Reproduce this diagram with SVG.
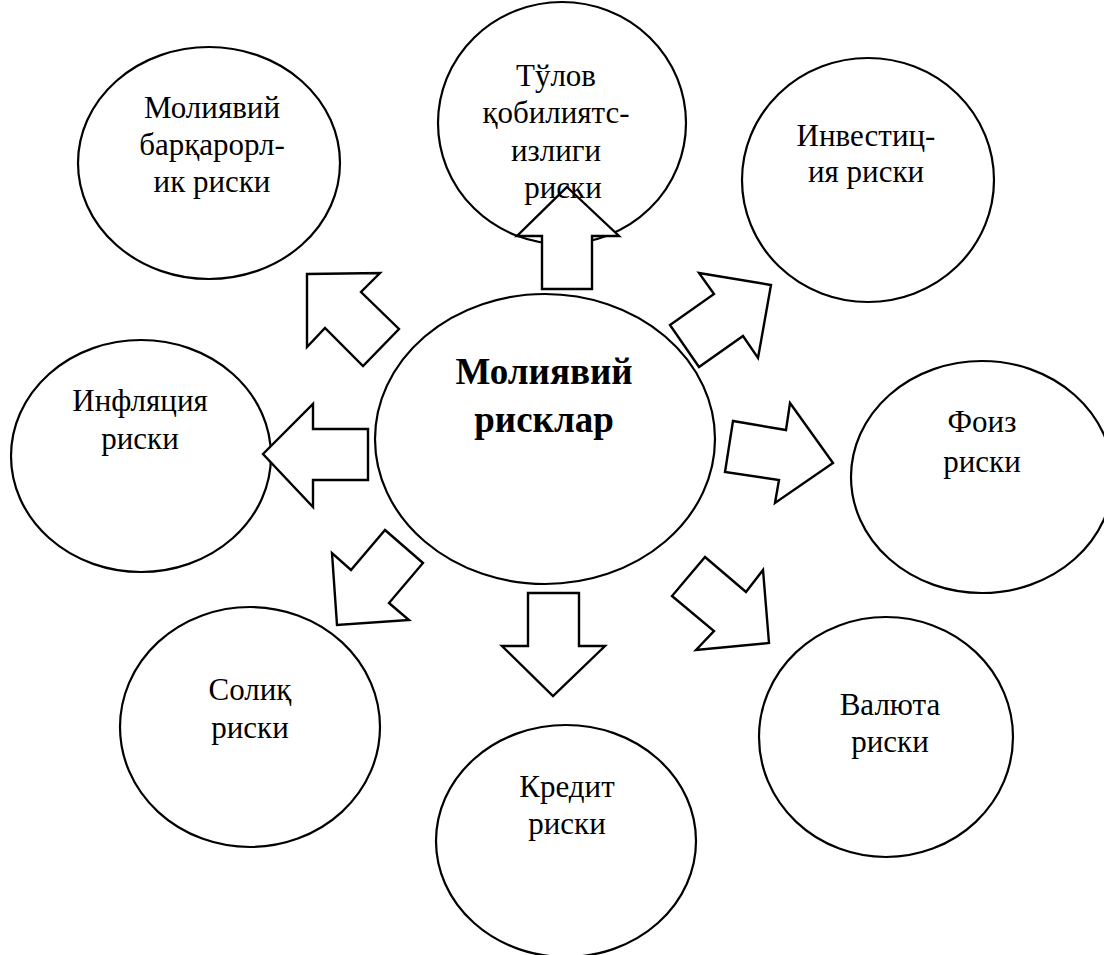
<svg xmlns="http://www.w3.org/2000/svg" width="1104" height="955" viewBox="0 0 1104 955">
  <style>
    .node ellipse { fill: #ffffff; stroke: #000000; stroke-width: 2.2; }
    .arrow { fill: #ffffff; stroke: #000000; stroke-width: 2.4; stroke-linejoin: miter; }
    text { font-family: "Liberation Serif", "Times New Roman", serif; font-size: 31px; fill: #000000; text-anchor: middle; }
    .hub { font-weight: bold; font-size: 37px; }
  </style>
  <rect width="1104" height="955" fill="#ffffff"/>

  <!-- outer risk bubbles -->
  <g id="node-stability" class="node"><ellipse cx="209" cy="163" rx="131" ry="116"/></g>
  <g id="node-solvency" class="node"><ellipse cx="562" cy="123" rx="124" ry="121"/></g>
  <g id="node-investment" class="node"><ellipse cx="868" cy="180" rx="126" ry="122"/></g>
  <g id="node-inflation" class="node"><ellipse cx="141" cy="456" rx="130" ry="116"/></g>
  <g id="node-interest" class="node"><ellipse cx="982" cy="477" rx="131" ry="116"/></g>
  <g id="node-tax" class="node"><ellipse cx="250" cy="727" rx="130" ry="120"/></g>
  <g id="node-credit" class="node"><ellipse cx="566" cy="841" rx="130" ry="116"/></g>
  <g id="node-currency" class="node"><ellipse cx="886" cy="737" rx="127" ry="120"/></g>

  <!-- central hub -->
  <g id="node-hub" class="node"><ellipse cx="545" cy="439" rx="170" ry="145"/></g>

  <!-- block arrows radiating from the hub -->
  <g id="connectors">
    <polygon class="arrow" points="307,274 380,273 361,292 399,329 363,366 325,328 307,347"/>
    <polygon class="arrow" points="567,187 619,236 592,236 592,289 542,289 542,236 517,236"/>
    <polygon class="arrow" points="699,273 771,285 758,358 743,336 699,367 670,325 714,294"/>
    <polygon class="arrow" points="263,454 313,404 313,429 368,429 368,480 313,480 313,507"/>
    <polygon class="arrow" points="790,403 833,463 775,503 779,480 725,472 733,421 786,430"/>
    <polygon class="arrow" points="385,530 423,563 389,603 409,620 337,625 332,553 351,570"/>
    <polygon class="arrow" points="528,593 579,593 579,646 605,646 553,696 502,646 528,646"/>
    <polygon class="arrow" points="705,557 746,592 763,570 769,643 696,650 714,631 672,596"/>
  </g>

  <!-- labels -->
  <g id="labels">
    <text x="212" y="118">Молиявий</text>
    <text x="212" y="155">барқарорл-</text>
    <text x="212" y="192">ик риски</text>

    <text x="556" y="86">Тўлов</text>
    <text x="556" y="123">қобилиятс-</text>
    <text x="556" y="161">излиги</text>
    <text x="563" y="198">риски</text>

    <text x="866" y="146">Инвестиц-</text>
    <text x="866" y="182">ия риски</text>

    <text x="140" y="411">Инфляция</text>
    <text x="140" y="449">риски</text>

    <text x="544" y="384" class="hub">Молиявий</text>
    <text x="544" y="432" class="hub">рисклар</text>

    <text x="982" y="432">Фоиз</text>
    <text x="982" y="472">риски</text>

    <text x="250" y="700">Солиқ</text>
    <text x="250" y="738">риски</text>

    <text x="890" y="715">Валюта</text>
    <text x="890" y="752">риски</text>

    <text x="567" y="797">Кредит</text>
    <text x="567" y="834">риски</text>
  </g>
</svg>
